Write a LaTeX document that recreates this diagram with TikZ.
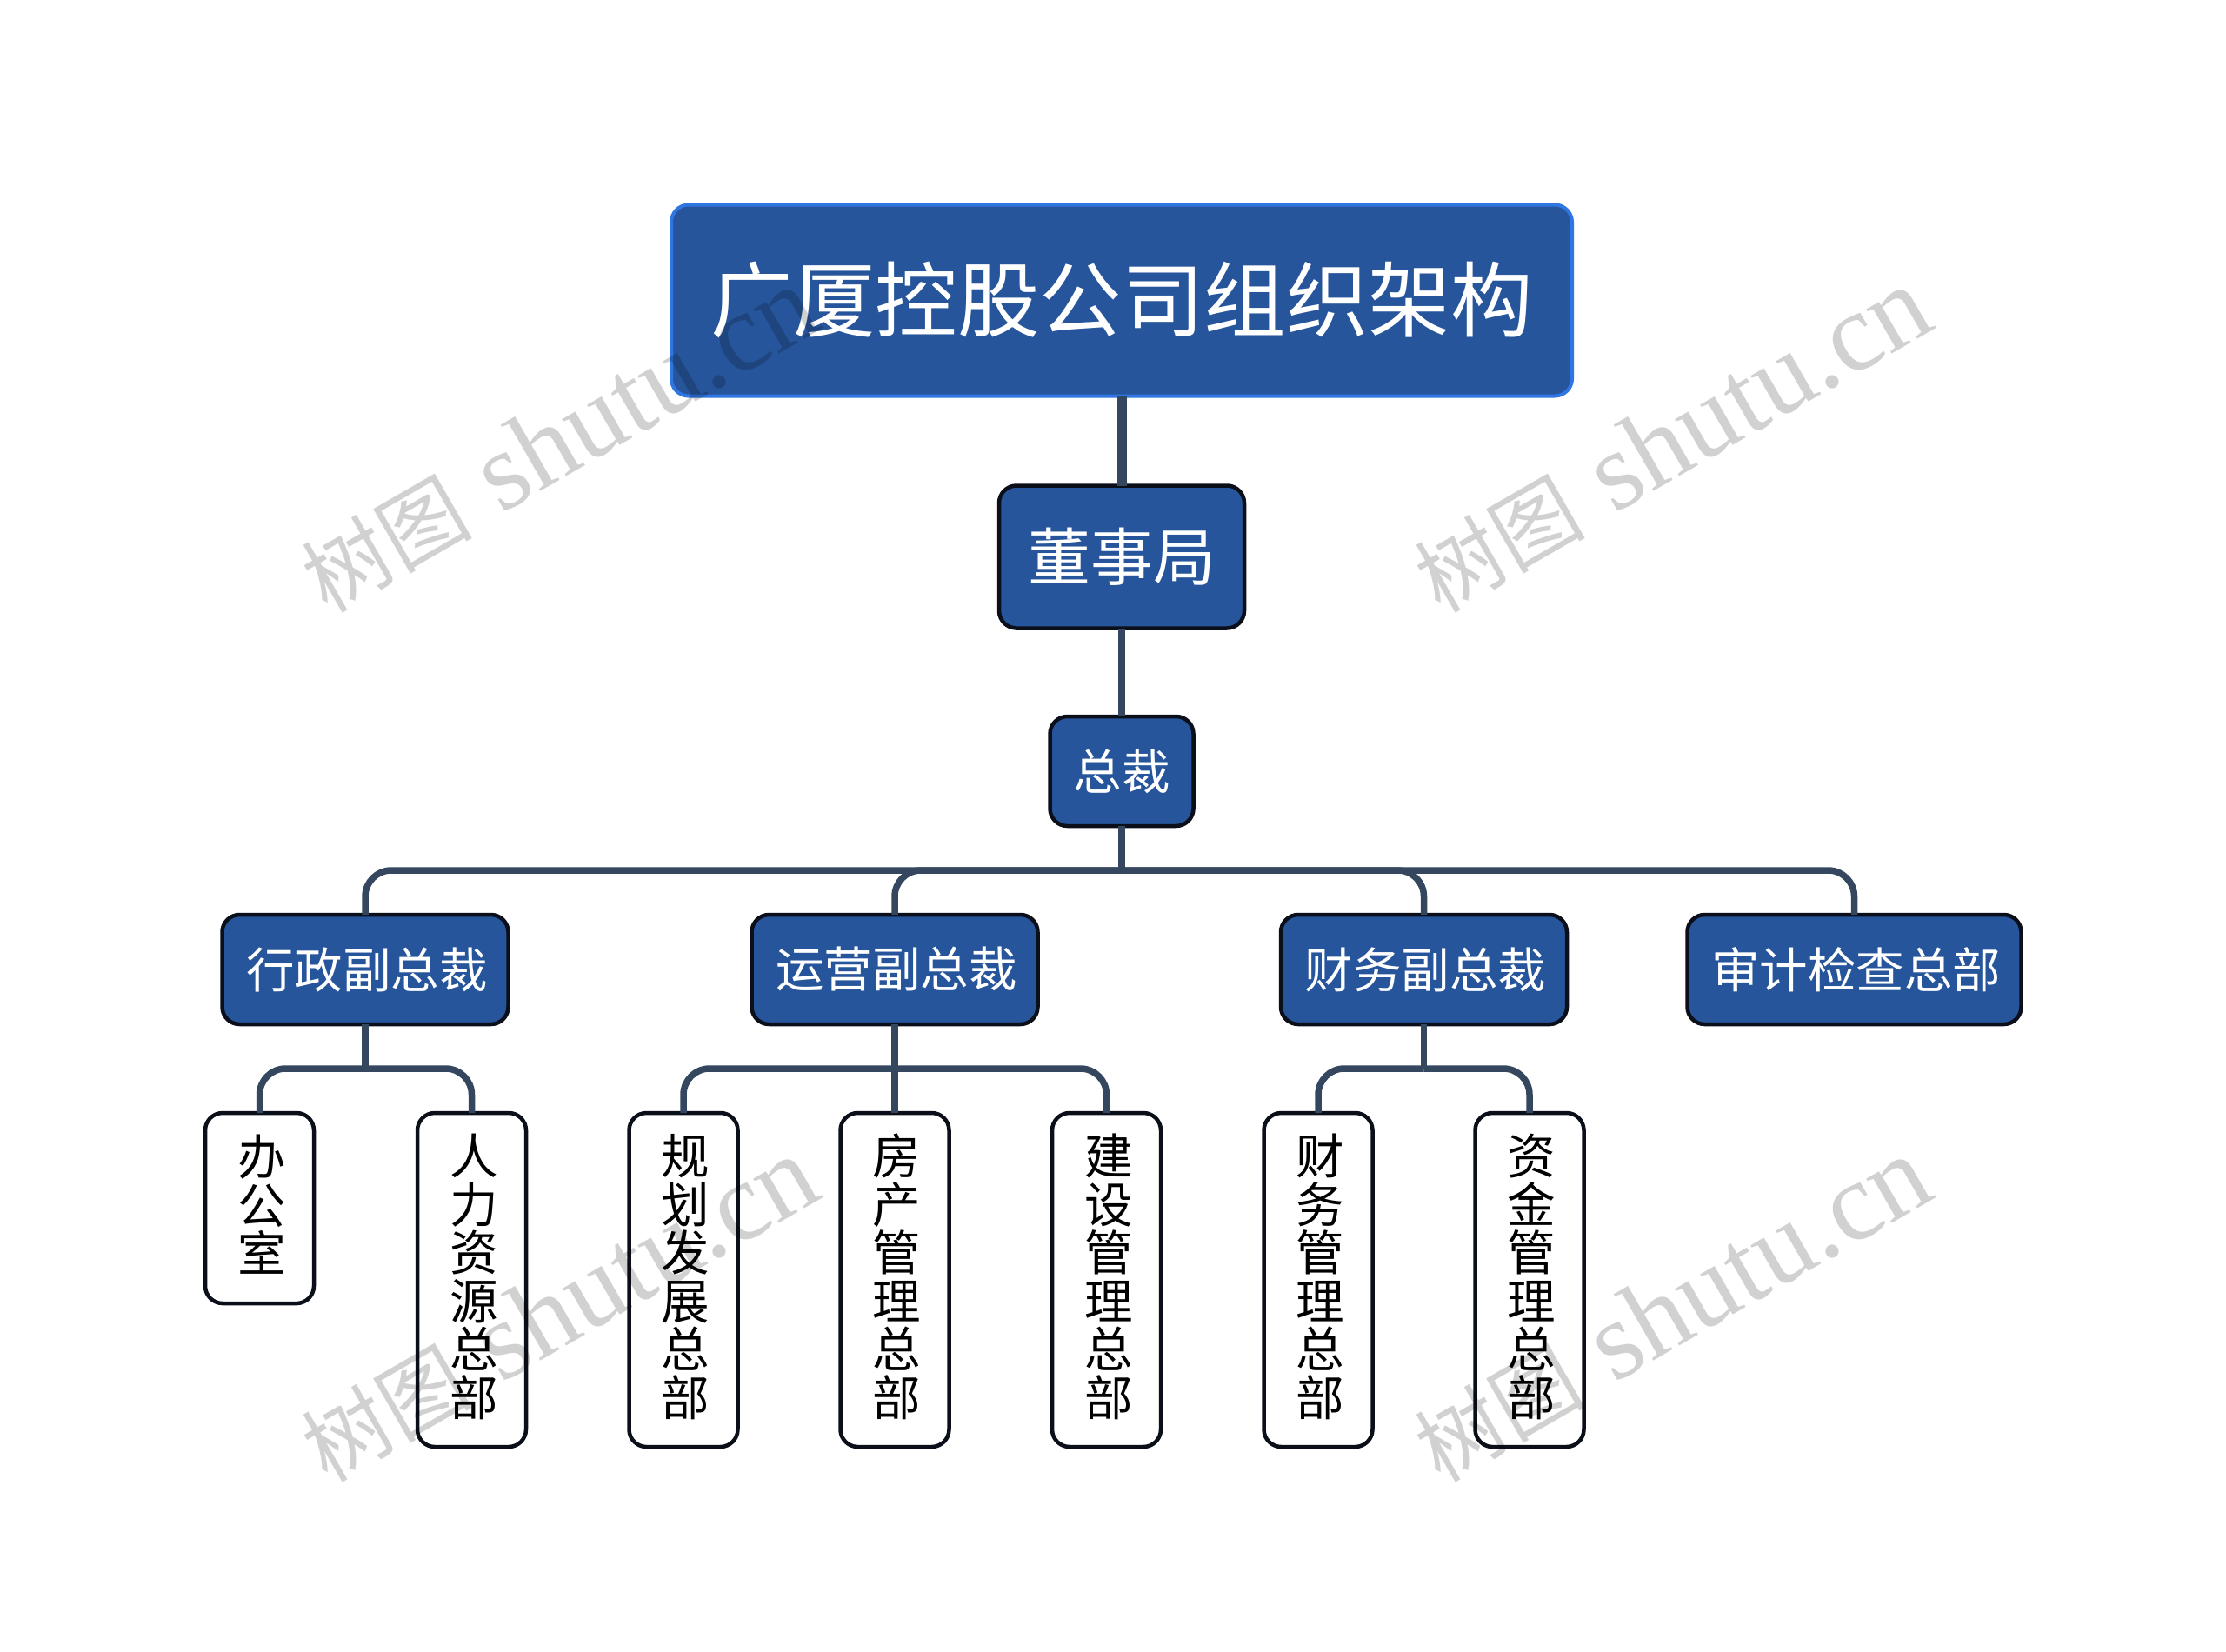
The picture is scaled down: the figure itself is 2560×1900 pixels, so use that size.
\documentclass[tikz,border=0pt]{standalone}
\usepackage{fontspec}
\setmainfont{Noto Sans CJK SC}
\newfontfamily\wmlatin{Liberation Serif}
\definecolor{boxblue}{HTML}{26559B}
\definecolor{rootedge}{HTML}{2F76E3}
\definecolor{linkcol}{HTML}{34475F}
\definecolor{edgecol}{HTML}{0B0F1A}
\tikzset{
  basebox/.style={rounded corners=20pt,line width=4.5pt,draw=edgecol,inner sep=0pt,outer sep=0pt,align=center,anchor=center},
  rootbox/.style={basebox,fill=boxblue,draw=rootedge,line width=4pt,text=white,font=\fontsize{94.5}{96}\selectfont,minimum width=1036pt,minimum height=220pt},
  boardbox/.style={basebox,fill=boxblue,text=white,font=\fontsize{72}{72}\selectfont,minimum width=282pt,minimum height=164pt},
  ceobox/.style={basebox,fill=boxblue,text=white,font=\fontsize{55.5}{56}\selectfont,minimum width=165pt,minimum height=126pt},
  vpbox/.style={basebox,fill=boxblue,text=white,font=\fontsize{55.5}{56}\selectfont,minimum width=329pt,minimum height=126pt},
  leafbox/.style={basebox,fill=white,text=black,font=\fontsize{55.5}{55.6}\selectfont,minimum width=125pt,align=left,text width=51pt},
  linkline/.style={draw=linkcol,line width=7.5pt},
  bendline/.style={linkline,rounded corners=30pt},
  wmark/.style={anchor=base west,inner sep=0pt,rotate=30,text=black,opacity=.18}
}
\newcommand{\wmtext}{\fontsize{98}{98}\selectfont 树图\hspace{35pt}{\wmlatin\fontsize{128}{128}\selectfont shutu.cn}}
\newcommand{\topgap}{\rule{0pt}{50pt}}
\newcommand{\botgap}{\rule[-15pt]{0pt}{15pt}}
\newcommand{\nudge}{\hspace*{4pt}}
\begin{document}
\begin{tikzpicture}[x=1pt,y=-1pt]
\useasboundingbox (0,0) rectangle (2560,1900);
\fill[white] (0,0) rectangle (2560,1900);
\coordinate (busa) at (1290,1001);
\coordinate (busb) at (420,1229);
\coordinate (busc) at (1029,1229);
\coordinate (busd) at (1637.5,1229);

\node[rootbox] (root) at (1290,345.5) {广厦控股公司组织架构};
\node[boardbox] (board) at (1290,640.5) {董事局};
\node[ceobox] (ceo) at (1290,887) {总裁};
\node[vpbox] (vpa) at (420,1115) {\nudge 行政副总裁};
\node[vpbox] (vpb) at (1029,1115) {\nudge 运营副总裁};
\node[vpbox] (vpc) at (1637.5,1115) {\nudge 财务副总裁};
\node[vpbox,minimum width=384pt] (vpd) at (2132.5,1115) {\nudge 审计检查总部};
\node[leafbox,minimum height=219pt] (la) at (298.5,1389.5) {\topgap 办\\公\\室\botgap};
\node[leafbox,minimum height=384pt] (lb) at (542.5,1472) {\topgap 人\\力\\资\\源\\总\\部\botgap};
\node[leafbox,minimum height=384pt] (lc) at (786,1472) {\topgap 规\\划\\发\\展\\总\\部\botgap};
\node[leafbox,minimum height=384pt] (ld) at (1029,1472) {\topgap 房\\产\\管\\理\\总\\部\botgap};
\node[leafbox,minimum height=384pt] (le) at (1272.5,1472) {\topgap 建\\设\\管\\理\\总\\部\botgap};
\node[leafbox,minimum height=384pt] (lf) at (1516,1472) {\topgap 财\\务\\管\\理\\总\\部\botgap};
\node[leafbox,minimum height=384pt] (lg) at (1759,1472) {\topgap 资\\金\\管\\理\\总\\部\botgap};

\draw[linkline,line width=11pt] (root.south) -- (board.north);
\draw[linkline] (board.south) -- (ceo.north);
\draw[linkline] (ceo.south) -- (busa);
\draw[bendline] (busa) -| (vpa.north);
\draw[bendline] (busa) -| (vpb.north);
\draw[bendline] (busa) -| (vpc.north);
\draw[bendline] (busa) -| (vpd.north);
\draw[linkline] (vpa.south) -- (busb);
\draw[bendline] (busb) -| (la.north);
\draw[bendline] (busb) -| (lb.north);
\draw[linkline] (vpb.south) -- (busc);
\draw[bendline] (busc) -| (lc.north);
\draw[linkline] (busc) -- (ld.north);
\draw[bendline] (busc) -| (le.north);
\draw[linkline] (vpc.south) -- (busd);
\draw[bendline] (busd) -| (lf.north);
\draw[bendline] (busd) -| (lg.north);

\node[wmark] (wma) at (376,707) {\wmtext};
\node[wmark] (wmb) at (1656,707) {\wmtext};
\node[wmark] (wmc) at (376,1707) {\wmtext};
\node[wmark] (wmd) at (1656,1707) {\wmtext};
\end{tikzpicture}
\end{document}
